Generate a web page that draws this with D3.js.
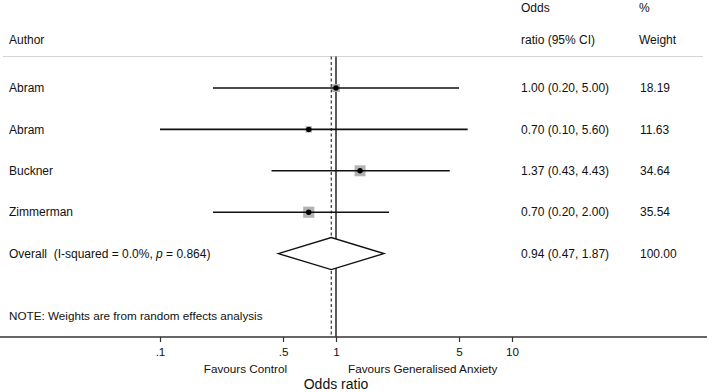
<!DOCTYPE html>
<html lang="en">
<head>
    <meta charset="UTF-8">
    <title>Forest plot</title>
    <script src="https://d3js.org/d3.v7.min.js"></script>
    <style>
        body { margin: 0; background: #fff; }
        text { font-family: "Liberation Sans", Arial, sans-serif; fill: #111; }
    </style>
</head>
<body>
    <svg id="forest" width="709" height="392"></svg>
    <script>
        // study data
        const authors = ['Abram', 'Abram', 'Buckner', 'Zimmerman'];
        const oddsRatio = [1.00, 0.70, 1.37, 0.70];
        const ciLow = [0.20, 0.10, 0.43, 0.20];
        const ciHigh = [5.00, 5.60, 4.43, 2.00];
        const weights = [18.19, 11.63, 34.64, 35.54];

        // pooled estimate
        const overallEst = 0.94;
        const overallLow = 0.47;
        const overallHigh = 1.87;
        const overallWeight = 100.00;
        const overallP = '0.864';
        const overallI2 = '0.0%';

        const tickValues = [0.1, 0.5, 1, 5, 10];
        const tickLabels = ['.1', '.5', '1', '5', '10'];

        const svg = d3.select('#forest');
        const W = 709;
        const fs = '12px';

        // log scale for odds ratio
        const x = d3.scaleLog().domain([0.1, 10]).range([160, 512]);
        // row positions (0..3 studies, 4 overall, 5.5 note)
        const y = d3.scaleLinear().domain([0, 1]).range([88, 129.4]);
        const axisY = 337;
        const topY = 56.5;

        const colLabel = 9, colOR = 521, colW = 640;
        const fmt = d3.format('.2f');

        // header
        svg.append('text').attr('x', colOR).attr('y', 8).attr('dy', '0.35em')
            .style('font-size', fs).text('Odds');
        svg.append('text').attr('x', colOR).attr('y', 40).attr('dy', '0.35em')
            .style('font-size', fs).text('ratio (95% CI)');
        svg.append('text').attr('x', colW - 1).attr('y', 8).attr('dy', '0.35em')
            .style('font-size', fs).text('%');
        svg.append('text').attr('x', colW - 1).attr('y', 40).attr('dy', '0.35em')
            .style('font-size', fs).text('Weight');
        svg.append('text').attr('x', colLabel).attr('y', 40).attr('dy', '0.35em')
            .style('font-size', fs).text('Author');

        svg.append('line')
            .attr('x1', 3).attr('x2', 703).attr('y1', topY).attr('y2', topY)
            .attr('stroke', '#d4d4d4').attr('stroke-width', 1);

        // null line and overall dashed line
        svg.append('line')
            .attr('x1', x(1)).attr('x2', x(1)).attr('y1', topY).attr('y2', axisY)
            .attr('stroke', '#333').attr('stroke-width', 1.6);
        svg.append('line')
            .attr('x1', x(overallEst)).attr('x2', x(overallEst)).attr('y1', topY).attr('y2', axisY)
            .attr('stroke', '#333').attr('stroke-width', 1.2)
            .attr('stroke-dasharray', '3,2.5');

        const studies = authors.map((a, i) => ({
            author: a, or: oddsRatio[i], lo: ciLow[i], hi: ciHigh[i], w: weights[i], row: i
        }));

        const side = d3.scaleSqrt().domain([0, 34.64]).range([0, 11]);

        const g = svg.selectAll('.study').data(studies).enter().append('g').attr('class', 'study');

        g.append('rect')
            .attr('x', d => x(d.or) - side(d.w) / 2)
            .attr('y', d => y(d.row) - side(d.w) / 2)
            .attr('width', d => side(d.w))
            .attr('height', d => side(d.w))
            .attr('fill', '#b3b3b3');

        g.append('line')
            .attr('x1', d => x(d.lo)).attr('x2', d => x(d.hi))
            .attr('y1', d => y(d.row)).attr('y2', d => y(d.row))
            .attr('stroke', '#111').attr('stroke-width', 1.6);

        g.append('circle')
            .attr('cx', d => x(d.or)).attr('cy', d => y(d.row)).attr('r', 2.7)
            .attr('fill', '#000');

        g.append('text').attr('x', colLabel).attr('y', d => y(d.row)).attr('dy', '0.35em')
            .style('font-size', fs).text(d => d.author);
        g.append('text').attr('x', colOR).attr('y', d => y(d.row)).attr('dy', '0.35em')
            .style('font-size', fs)
            .text(d => `${fmt(d.or)} (${fmt(d.lo)}, ${fmt(d.hi)})`);
        g.append('text').attr('x', colW).attr('y', d => y(d.row)).attr('dy', '0.35em')
            .style('font-size', fs).text(d => fmt(d.w));

        // overall diamond
        const oy = y(4);
        const dh = 16;
        svg.append('path')
            .attr('d', `M${x(overallLow)},${oy} L${x(overallEst)},${oy - dh} L${x(overallHigh)},${oy} L${x(overallEst)},${oy + dh} Z`)
            .attr('fill', '#fff').attr('stroke', '#111').attr('stroke-width', 1.4);

        const ot = svg.append('text').attr('x', colLabel).attr('y', oy).attr('dy', '0.35em')
            .style('font-size', fs).attr('xml:space', 'preserve');
        ot.append('tspan').text(`Overall  (I-squared = ${overallI2}, `);
        ot.append('tspan').style('font-style', 'italic').text('p');
        ot.append('tspan').text(` = ${overallP})`);

        svg.append('text').attr('x', colOR).attr('y', oy).attr('dy', '0.35em')
            .style('font-size', fs)
            .text(`${fmt(overallEst)} (${fmt(overallLow)}, ${fmt(overallHigh)})`);
        svg.append('text').attr('x', colW).attr('y', oy).attr('dy', '0.35em')
            .style('font-size', fs).text(fmt(overallWeight));

        svg.append('text').attr('x', colLabel).attr('y', y(5.5)).attr('dy', '0.35em')
            .style('font-size', '11.7px').text('NOTE: Weights are from random effects analysis');

        // x axis
        const axis = svg.append('g').attr('transform', `translate(0,${axisY})`)
            .call(d3.axisBottom(x).tickValues(tickValues)
                .tickFormat((d, i) => tickLabels[i]).tickSizeOuter(0).tickSize(5).tickPadding(6));
        axis.select('.domain').attr('d', `M0,0H${W - 2}`).attr('stroke', '#333').attr('stroke-width', 1.6);
        axis.selectAll('.tick line').attr('stroke', '#333').attr('stroke-width', 1.2);
        axis.selectAll('.tick text').style('font-size', '11.7px').style('font-family', '"Liberation Sans", Arial, sans-serif').attr('fill', '#111');

        svg.append('text').attr('x', 287).attr('y', 369).attr('dy', '0.35em')
            .attr('text-anchor', 'end').style('font-size', '11.7px').text('Favours Control');
        svg.append('text').attr('x', 348).attr('y', 369).attr('dy', '0.35em')
            .style('font-size', '11.7px').text('Favours Generalised Anxiety');
        svg.append('text').attr('x', x(1)).attr('y', 384).attr('dy', '0.35em')
            .attr('text-anchor', 'middle').style('font-size', '14px').text('Odds ratio');
    </script>
</body>
</html>
